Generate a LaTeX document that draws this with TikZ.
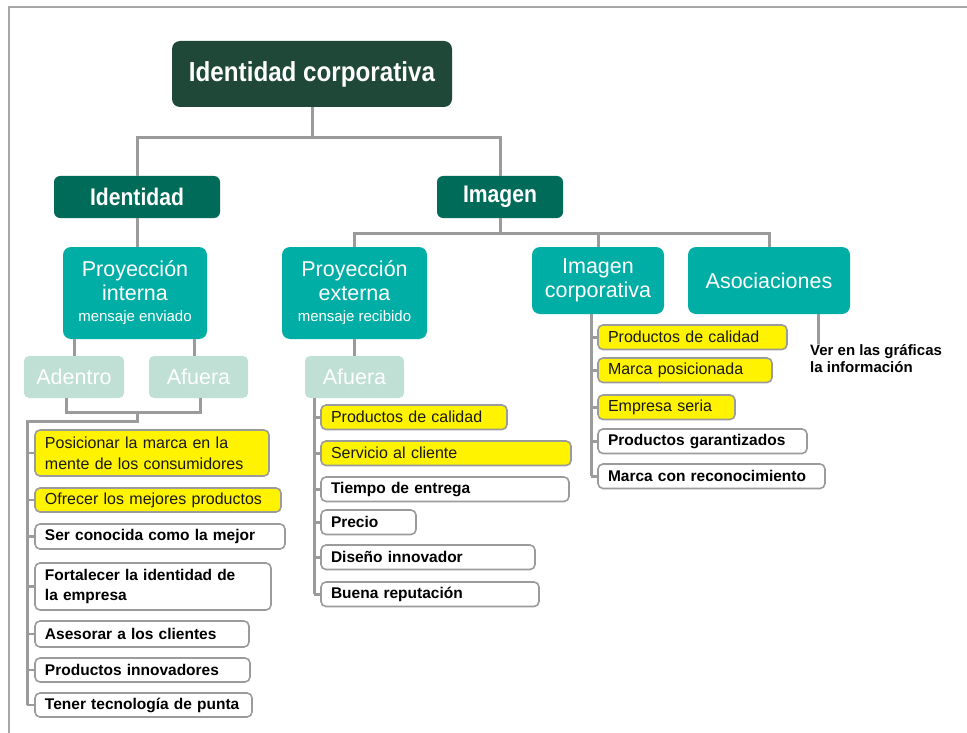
\documentclass[tikz,border=0pt]{standalone}
\usepackage{fontspec}
\setmainfont{Liberation Sans}
\newfontfamily\headfont[FakeStretch=0.88]{Liberation Sans}
\definecolor{rootgreen}{RGB}{31,72,57}
\definecolor{headgreen}{RGB}{0,107,88}
\definecolor{tealbox}{RGB}{0,174,166}
\definecolor{palebox}{RGB}{192,224,214}
\definecolor{hiyellow}{RGB}{255,243,0}
\definecolor{linegray}{RGB}{155,155,155}
\definecolor{framegray}{RGB}{166,166,166}
\tikzset{
  conn/.style={draw=linegray, line width=3pt},
  itembox/.style={draw=linegray, line width=1.6pt, rounded corners=5pt,
    anchor=north west, inner xsep=10pt, inner ysep=0pt, outer sep=0pt, align=left},
  yel/.style={itembox, fill=hiyellow, text=black!90, font=\fontsize{16}{21}\selectfont},
  wht/.style={itembox, fill=white, text=black, font=\bfseries\fontsize{15.5}{20}\selectfont},
}
\begin{document}
\begin{tikzpicture}[x=1pt,y=-1pt,
    rootbox/.style={fill=rootgreen, rounded corners=8pt, text=white, anchor=north west,
      inner sep=0pt, outer sep=0pt, font=\headfont\bfseries\fontsize{27.5}{30}\selectfont},
    headbox/.style={fill=headgreen, rounded corners=6pt, text=white, anchor=north west,
      inner sep=0pt, outer sep=0pt, font=\headfont\bfseries\fontsize{24}{26}\selectfont},
    tbox/.style={fill=tealbox, rounded corners=8pt, text=white, anchor=north west, align=center,
      inner sep=0pt, outer sep=0pt, font=\fontsize{21.5}{23.5}\selectfont},
    pbox/.style={fill=palebox, rounded corners=5pt, text=white, anchor=north west,
      inner sep=0pt, outer sep=0pt, font=\fontsize{21.5}{23.5}\selectfont}]
  \useasboundingbox (0,0) rectangle (967,733);
  \draw[draw=framegray, line width=2.5pt] (9,733) -- (9,7) -- (967,7); % frame

  % top levels
  \node[rootbox, minimum width=280, minimum height=66] (root) at (172,41) {Identidad corporativa};
  \node[headbox, minimum width=166, minimum height=42] (ident) at (54,176) {Identidad};
  \node[headbox, minimum width=126, minimum height=42] (imag) at (437,176) {Imagen};

  \node[tbox, minimum width=144, minimum height=92] (pint) at (63,247)
    {Proyección\\interna\\[-2pt]{\fontsize{15}{16}\selectfont mensaje enviado}};
  \node[tbox, minimum width=145, minimum height=92] (pext) at (282,247)
    {Proyección\\externa\\[-2pt]{\fontsize{15}{16}\selectfont mensaje recibido}};
  \node[tbox, minimum width=132, minimum height=67] (icorp) at (532,247) {Imagen\\corporativa};
  \node[tbox, minimum width=162, minimum height=67] (asoc) at (688,247) {Asociaciones};

  \node[pbox, minimum width=100, minimum height=42] (adentro) at (24,356) {Adentro};
  \node[pbox, minimum width=99, minimum height=42] (afuera) at (149,356) {Afuera};
  \node[pbox, minimum width=99, minimum height=42] (afuerab) at (305,356) {Afuera};

  \node[anchor=north west, align=left, inner sep=0pt, font=\bfseries\fontsize{15}{17.5}\selectfont] (ver)
    at (810,344) {Ver en las gráficas\\la información};

  % connectors
  \coordinate (rbus) at (312,138);
  \draw[conn] (root.south) -- (rbus);
  \draw[conn] (ident.north) |- (rbus) -| (imag.north);
  \coordinate (ibus) at (500,233);
  \draw[conn] (imag.south) -- (ibus);
  \draw[conn] (pext.north) |- (ibus) -| (asoc.north);
  \draw[conn] (icorp.north) |- (ibus);
  \draw[conn] (ident.south) -- (ident.south |- pint.north);
  \draw[conn] (pext.south) -- (pext.south |- afuerab.north);
  \draw[conn] (adentro.north) -- (adentro.north |- pint.south);
  \draw[conn] ([xshift=-4pt]afuera.north) -- ([xshift=-4pt]afuera.north |- pint.south);
  \draw[conn] ([xshift=8pt]ver.north west) -- ([xshift=8pt]ver.north west |- asoc.south);

  \coordinate (abus) at (137,412);
  \draw[conn] ([xshift=-8pt]adentro.south) |- (abus) -| ([xshift=2pt]afuera.south);

  % left list
  \foreach \nm/\yy/\ww/\hh/\st/\txt in {
      1/430/234/46/yel/{Posicionar la marca en la\\mente de los consumidores},
      2/488/246/24/yel/{Ofrecer los mejores productos},
      3/524/250/25/wht/{Ser conocida como la mejor},
      4/563/236/47/wht/{Fortalecer la identidad de\\la empresa},
      5/621/214/26/wht/{Asesorar a los clientes},
      6/658/215/24/wht/{Productos innovadores},
      7/693/217/24/wht/{Tener tecnología de punta}}{
    \pgfmathsetmacro{\tw}{\ww-20}
    \node[\st, text width=\tw pt, minimum height=\hh] (l\nm) at (35,\yy) {\txt};
  }
  \draw[conn] (abus) |- (27,421) coordinate (ltop) -- (ltop |- l7.west);
  \foreach \i in {1,...,7}{
    \draw[conn, line width=2.5pt] (ltop |- l\i.west) -- (l\i.west);
  }

  % middle list
  \foreach \nm/\yy/\ww/\st/\txt in {
      1/405/186/yel/{Productos de calidad},
      2/441/250/yel/{Servicio al cliente},
      3/477/248/wht/{Tiempo de entrega},
      4/510/95/wht/{Precio},
      5/545/214/wht/{Diseño innovador},
      6/582/218/wht/{Buena reputación}}{
    \pgfmathsetmacro{\tw}{\ww-20}
    \node[\st, text width=\tw pt, minimum height=24.5] (m\nm) at (321,\yy) {\txt};
  }
  \coordinate (mtop) at (314,398);
  \draw[conn] (mtop) -- (mtop |- m6.west);
  \foreach \i in {1,...,6}{
    \draw[conn, line width=2.5pt] (mtop |- m\i.west) -- (m\i.west);
  }

  % right list
  \foreach \nm/\yy/\ww/\st/\txt in {
      1/325/189/yel/{Productos de calidad},
      2/358/174/yel/{Marca posicionada},
      3/395/137/yel/{Empresa seria},
      4/429/209/wht/{Productos garantizados},
      5/464/227/wht/{Marca con reconocimiento}}{
    \pgfmathsetmacro{\tw}{\ww-20}
    \node[\st, text width=\tw pt, minimum height=24.5] (r\nm) at (598,\yy) {\txt};
  }
  \coordinate (rtop) at (591,314);
  \draw[conn] (rtop) -- (rtop |- r5.west);
  \foreach \i in {1,...,5}{
    \draw[conn, line width=2.5pt] (rtop |- r\i.west) -- (r\i.west);
  }
\end{tikzpicture}
\end{document}
